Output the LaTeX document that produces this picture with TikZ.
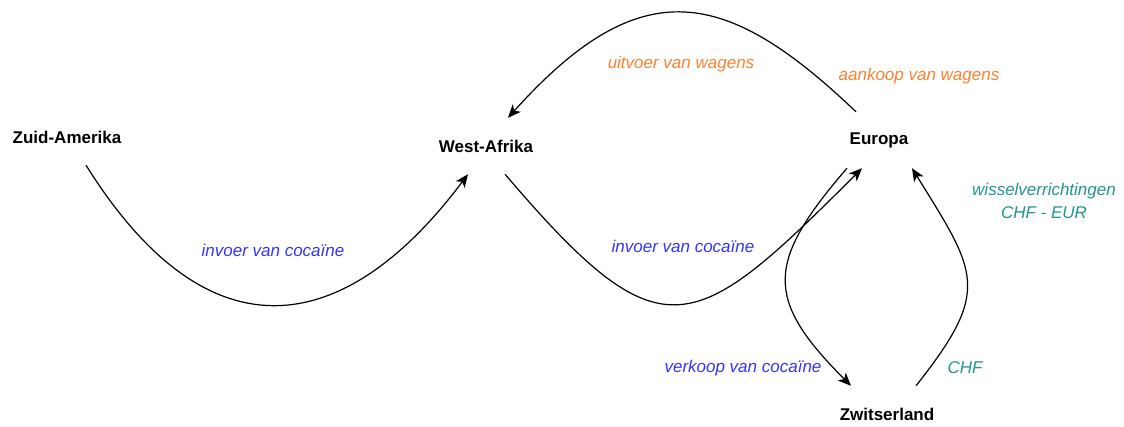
\documentclass[tikz,border=0pt]{standalone}
\usepackage{fontspec}
\setmainfont{Liberation Sans}
\usepackage{xcolor}
\usetikzlibrary{arrows.meta}

\definecolor{flowblue}{HTML}{3333FF}
\definecolor{flowcar}{HTML}{FF8030}
\definecolor{flowcash}{HTML}{20968C}

\begin{document}
\begin{tikzpicture}[
  x=1pt, y=-1pt,
  place/.style={font=\fontsize{17}{20}\selectfont\bfseries, minimum width=120pt, minimum height=56pt, inner sep=0pt},
  flowlabel/.style={font=\fontsize{17}{23}\selectfont\itshape, align=center, inner sep=0pt},
  arrow/.style={-{Stealth[length=13pt, width=11pt, inset=3.5pt]}, line width=1.2pt}
]
\useasboundingbox (0,0) rectangle (1124,426);

% countries
\node[place] (zuid) at (67,137) {Zuid-Amerika};
\node[place] (wafrika) at (486,146) {West-Afrika};
\node[place] (europa) at (879,140) {Europa};
\node[place] (zwitser) at (887,414) {Zwitserland};

% flow labels
\node[flowlabel, text=flowblue] (coke1) at (273,250) {invoer van cocaïne};
\node[flowlabel, text=flowblue] (coke2) at (683,246) {invoer van cocaïne};
\node[flowlabel, text=flowblue] (coke3) at (743,368) {verkoop van cocaïne};
\node[flowlabel, text=flowcar] (cars1) at (681,64) {uitvoer van wagens};
\node[flowlabel, text=flowcar] (cars2) at (919,76) {aankoop van wagens};
\node[flowlabel, text=flowcash] (chf) at (965,368) {CHF};
\node[flowlabel, text=flowcash] (swap) at (1044,201) {wisselverrichtingen\\CHF - EUR};

% flows
\draw[arrow] ([xshift=19pt]zuid.south) .. controls +(125,200) and +(-120,160) .. ([xshift=-18pt]wafrika.south);
\draw[arrow] ([xshift=19pt]wafrika.south) .. controls +(157,184) and +(-170,170) .. ([xshift=-17pt]europa.south);
\draw[arrow] ([xshift=-23pt]europa.north) .. controls +(-130,-124) and +(133,-148) .. ([xshift=22pt]wafrika.north);
\draw[arrow] ([xshift=-32pt]europa.south) .. controls +(-81,94) and +(-87,-87) .. ([xshift=-36pt]zwitser.north);
\draw[arrow] ([xshift=29pt]zwitser.north) .. controls +(76,-96) and +(65,105) .. ([xshift=33pt]europa.south);
\end{tikzpicture}
\end{document}
